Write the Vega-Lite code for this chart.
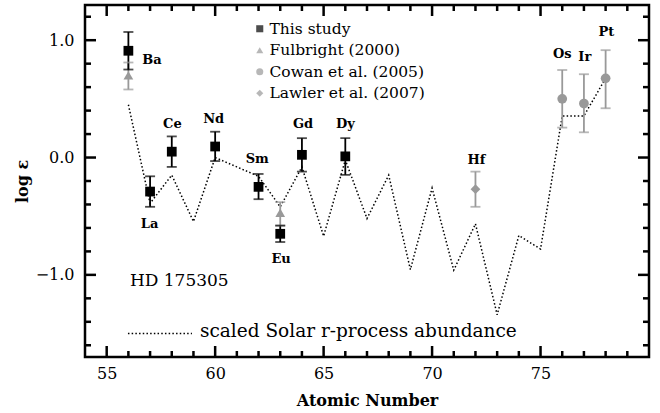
{
  "$schema": "https://vega.github.io/schema/vega-lite/v6.json",
  "width": 564,
  "height": 352,
  "autosize": {"type": "none"},
  "padding": {"left": 85, "top": 5, "right": 11, "bottom": 56},
  "background": "white",
  "config": {
    "view": {"stroke": "black", "strokeWidth": 2.5},
    "font": "DejaVu Serif",
    "axis": {"domain": false, "grid": false, "ticks": false, "labelColor": "black", "titleColor": "black", "labelFont": "DejaVu Serif", "titleFont": "DejaVu Serif", "labelFontSize": 16, "titleFontSize": 16},
    "legend": {"orient": "none", "legendX": 167, "legendY": 16, "title": null, "padding": 0, "symbolSize": 50, "symbolStrokeWidth": 0, "labelFont": "DejaVu Serif", "labelFontSize": 15.5, "labelColor": "black", "labelOffset": 2, "rowPadding": 4.5}
  },
  "datasets": {
    "solar": [
      {"Z": 56, "v": 0.45}, {"Z": 57, "v": -0.39}, {"Z": 58, "v": -0.15}, {"Z": 59, "v": -0.545},
      {"Z": 60, "v": 0.0}, {"Z": 61, "v": -0.08}, {"Z": 62, "v": -0.16}, {"Z": 63, "v": -0.42},
      {"Z": 64, "v": -0.08}, {"Z": 65, "v": -0.67}, {"Z": 66, "v": -0.02}, {"Z": 67, "v": -0.52},
      {"Z": 68, "v": -0.15}, {"Z": 69, "v": -0.955}, {"Z": 70, "v": -0.26}, {"Z": 71, "v": -0.96},
      {"Z": 72, "v": -0.565}, {"Z": 73, "v": -1.34}, {"Z": 74, "v": -0.665}, {"Z": 75, "v": -0.78},
      {"Z": 76, "v": 0.355}, {"Z": 77, "v": 0.355}, {"Z": 78, "v": 0.675}
    ],
    "obs": [
      {"el": "Ba", "Z": 56, "v": 0.70, "lo": 0.58, "hi": 0.81, "src": "Fulbright (2000)"},
      {"el": "Eu", "Z": 63, "v": -0.47, "lo": -0.58, "hi": -0.38, "src": "Fulbright (2000)"},
      {"el": "Hf", "Z": 72, "v": -0.27, "lo": -0.42, "hi": -0.12, "src": "Lawler et al. (2007)"},
      {"el": "Os", "Z": 76, "v": 0.50, "lo": 0.255, "hi": 0.746, "src": "Cowan et al. (2005)"},
      {"el": "Ir", "Z": 77, "v": 0.46, "lo": 0.215, "hi": 0.71, "src": "Cowan et al. (2005)"},
      {"el": "Pt", "Z": 78, "v": 0.675, "lo": 0.42, "hi": 0.915, "src": "Cowan et al. (2005)"},
      {"el": "Ba", "Z": 56, "v": 0.91, "lo": 0.75, "hi": 1.07, "src": "This study"},
      {"el": "La", "Z": 57, "v": -0.29, "lo": -0.42, "hi": -0.16, "src": "This study"},
      {"el": "Ce", "Z": 58, "v": 0.05, "lo": -0.08, "hi": 0.18, "src": "This study"},
      {"el": "Nd", "Z": 60, "v": 0.094, "lo": -0.03, "hi": 0.22, "src": "This study"},
      {"el": "Sm", "Z": 62, "v": -0.25, "lo": -0.355, "hi": -0.14, "src": "This study"},
      {"el": "Eu", "Z": 63, "v": -0.65, "lo": -0.72, "hi": -0.58, "src": "This study"},
      {"el": "Gd", "Z": 64, "v": 0.023, "lo": -0.12, "hi": 0.165, "src": "This study"},
      {"el": "Dy", "Z": 66, "v": 0.01, "lo": -0.147, "hi": 0.165, "src": "This study"}
    ],
    "labels": [
      {"el": "Ba", "x": 57.09, "y": 0.83}, {"el": "La", "x": 56.98, "y": -0.565},
      {"el": "Ce", "x": 58.03, "y": 0.287}, {"el": "Nd", "x": 59.93, "y": 0.327},
      {"el": "Sm", "x": 61.94, "y": -0.014}, {"el": "Eu", "x": 63.04, "y": -0.865},
      {"el": "Gd", "x": 64.05, "y": 0.287}, {"el": "Dy", "x": 66.0, "y": 0.287},
      {"el": "Hf", "x": 72.04, "y": -0.02}, {"el": "Os", "x": 76.0, "y": 0.88},
      {"el": "Ir", "x": 77.04, "y": 0.86}, {"el": "Pt", "x": 78.04, "y": 1.07}
    ],
    "xmajor": [{"t": 55}, {"t": 60}, {"t": 65}, {"t": 70}, {"t": 75}],
    "xminor": [
      {"t": 56}, {"t": 57}, {"t": 58}, {"t": 59}, {"t": 61}, {"t": 62}, {"t": 63}, {"t": 64},
      {"t": 66}, {"t": 67}, {"t": 68}, {"t": 69}, {"t": 71}, {"t": 72}, {"t": 73}, {"t": 74},
      {"t": 76}, {"t": 77}, {"t": 78}, {"t": 79}
    ],
    "ymajor": [{"t": -1.0}, {"t": 0.0}, {"t": 1.0}],
    "yminor": [
      {"t": -1.6}, {"t": -1.4}, {"t": -1.2}, {"t": -0.8}, {"t": -0.6}, {"t": -0.4}, {"t": -0.2},
      {"t": 0.2}, {"t": 0.4}, {"t": 0.6}, {"t": 0.8}, {"t": 1.2}
    ],
    "key": [{"x1": 55.98, "x2": 58.93, "y": -1.5}]
  },
  "layer": [
    {
      "data": {"name": "solar"},
      "mark": {"type": "line", "color": "black", "strokeWidth": 1.5, "strokeDash": [1.5, 2.2]},
      "encoding": {
        "x": {"field": "Z", "type": "quantitative", "scale": {"domain": [54, 80], "nice": false, "zero": false},
              "axis": {"orient": "bottom", "values": [55, 60, 65, 70, 75], "labelPadding": 8, "title": "Atomic Number", "titleFontWeight": "bold", "titlePadding": 11}},
        "y": {"field": "v", "type": "quantitative", "scale": {"domain": [-1.7, 1.3], "nice": false, "zero": false},
              "axis": {"orient": "left", "values": [-1, 0, 1], "format": ".1f", "labelPadding": 11, "title": "log ε", "titleFontWeight": "bold", "titlePadding": 5}}
      }
    },
    {"data": {"name": "xmajor"}, "mark": {"type": "rule", "color": "black", "strokeWidth": 2.5},
     "encoding": {"x": {"field": "t", "type": "quantitative"}, "y": {"datum": -1.7, "type": "quantitative"}, "y2": {"datum": -1.6062}}},
    {"data": {"name": "xminor"}, "mark": {"type": "rule", "color": "black", "strokeWidth": 2.5},
     "encoding": {"x": {"field": "t", "type": "quantitative"}, "y": {"datum": -1.7, "type": "quantitative"}, "y2": {"datum": -1.6489}}},
    {"data": {"name": "xmajor"}, "mark": {"type": "rule", "color": "black", "strokeWidth": 2.5},
     "encoding": {"x": {"field": "t", "type": "quantitative"}, "y": {"datum": 1.3, "type": "quantitative"}, "y2": {"datum": 1.2062}}},
    {"data": {"name": "xminor"}, "mark": {"type": "rule", "color": "black", "strokeWidth": 2.5},
     "encoding": {"x": {"field": "t", "type": "quantitative"}, "y": {"datum": 1.3, "type": "quantitative"}, "y2": {"datum": 1.2489}}},
    {"data": {"name": "ymajor"}, "mark": {"type": "rule", "color": "black", "strokeWidth": 2.5},
     "encoding": {"y": {"field": "t", "type": "quantitative"}, "x": {"datum": 54, "type": "quantitative"}, "x2": {"datum": 54.507}}},
    {"data": {"name": "yminor"}, "mark": {"type": "rule", "color": "black", "strokeWidth": 2.5},
     "encoding": {"y": {"field": "t", "type": "quantitative"}, "x": {"datum": 54, "type": "quantitative"}, "x2": {"datum": 54.277}}},
    {"data": {"name": "ymajor"}, "mark": {"type": "rule", "color": "black", "strokeWidth": 2.5},
     "encoding": {"y": {"field": "t", "type": "quantitative"}, "x": {"datum": 80, "type": "quantitative"}, "x2": {"datum": 79.493}}},
    {"data": {"name": "yminor"}, "mark": {"type": "rule", "color": "black", "strokeWidth": 2.5},
     "encoding": {"y": {"field": "t", "type": "quantitative"}, "x": {"datum": 80, "type": "quantitative"}, "x2": {"datum": 79.723}}},
    {
      "data": {"name": "obs"},
      "mark": {"type": "rule", "strokeWidth": 1.8},
      "encoding": {
        "x": {"field": "Z", "type": "quantitative"},
        "y": {"field": "lo", "type": "quantitative"},
        "y2": {"field": "hi"},
        "color": {"field": "src", "type": "nominal", "scale": {"domain": ["This study", "Fulbright (2000)", "Cowan et al. (2005)", "Lawler et al. (2007)"], "range": ["black", "#999999", "#999999", "#999999"]}}
      }
    },
    {
      "data": {"name": "obs"},
      "mark": {"type": "tick", "orient": "horizontal", "size": 10, "thickness": 1.8},
      "encoding": {
        "x": {"field": "Z", "type": "quantitative"},
        "y": {"field": "lo", "type": "quantitative"},
        "color": {"field": "src", "type": "nominal"}
      }
    },
    {
      "data": {"name": "obs"},
      "mark": {"type": "tick", "orient": "horizontal", "size": 10, "thickness": 1.8},
      "encoding": {
        "x": {"field": "Z", "type": "quantitative"},
        "y": {"field": "hi", "type": "quantitative"},
        "color": {"field": "src", "type": "nominal"}
      }
    },
    {
      "data": {"name": "obs"},
      "mark": {"type": "point", "filled": true, "size": 95, "opacity": 1},
      "encoding": {
        "x": {"field": "Z", "type": "quantitative"},
        "y": {"field": "v", "type": "quantitative"},
        "color": {"field": "src", "type": "nominal"},
        "shape": {"field": "src", "type": "nominal", "scale": {"domain": ["This study", "Fulbright (2000)", "Cowan et al. (2005)", "Lawler et al. (2007)"], "range": ["square", "triangle-up", "circle", "diamond"]}}
      }
    },
    {
      "data": {"name": "labels"},
      "mark": {"type": "text", "font": "DejaVu Serif", "fontWeight": "bold", "fontSize": 13, "color": "black", "align": "center", "baseline": "middle"},
      "encoding": {
        "x": {"field": "x", "type": "quantitative"},
        "y": {"field": "y", "type": "quantitative"},
        "text": {"field": "el"}
      }
    },
    {
      "data": {"values": [{"text": "HD 175305", "x": 56.07, "y": -1.055}]},
      "mark": {"type": "text", "font": "DejaVu Serif", "fontSize": 17, "color": "black", "align": "left", "baseline": "middle"},
      "encoding": {
        "x": {"field": "x", "type": "quantitative"},
        "y": {"field": "y", "type": "quantitative"},
        "text": {"field": "text"}
      }
    },
    {
      "data": {"values": [{"text": "scaled Solar r-process abundance", "x": 59.3, "y": -1.48}]},
      "mark": {"type": "text", "font": "DejaVu Serif", "fontSize": 18.5, "color": "black", "align": "left", "baseline": "middle"},
      "encoding": {
        "x": {"field": "x", "type": "quantitative"},
        "y": {"field": "y", "type": "quantitative"},
        "text": {"field": "text"}
      }
    },
    {
      "data": {"name": "key"},
      "mark": {"type": "rule", "color": "black", "strokeWidth": 1.5, "strokeDash": [1.5, 2.2]},
      "encoding": {
        "x": {"field": "x1", "type": "quantitative"},
        "x2": {"field": "x2"},
        "y": {"field": "y", "type": "quantitative"}
      }
    }
  ]
}
